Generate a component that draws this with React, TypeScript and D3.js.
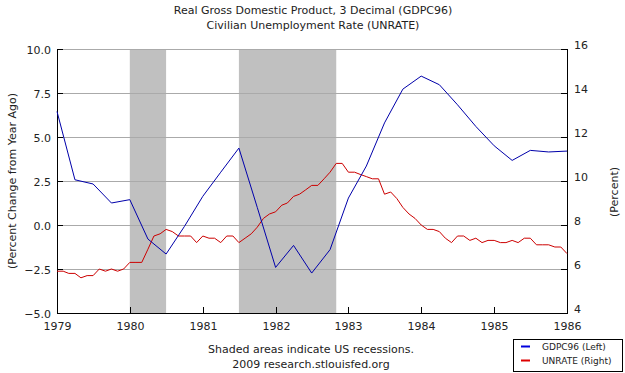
import * as d3 from "d3";
import { useEffect, useRef } from "react";

// GDPC96, percent change from year ago, quarterly from 1979 Q1
const gdpValues = [
  6.45, 2.57, 2.33, 1.25, 1.44, -0.8, -1.65, -0.08, 1.63, 3.0, 4.37, 1.0,
  -2.41, -1.16, -2.73, -1.4, 1.53, 3.35, 5.8, 7.72, 8.46, 7.97, 6.83, 5.6,
  4.5, 3.67, 4.24, 4.15, 4.2,
];

// UNRATE, monthly from Jan 1979
const unrateValues = [
  5.9, 5.9, 5.8, 5.8, 5.6, 5.7, 5.7, 6.0, 5.9, 6.0, 5.9, 6.0,
  6.3, 6.3, 6.3, 6.9, 7.5, 7.6, 7.8, 7.7, 7.5, 7.5, 7.5, 7.2,
  7.5, 7.4, 7.4, 7.2, 7.5, 7.5, 7.2, 7.4, 7.6, 7.9, 8.3, 8.5,
  8.6, 8.9, 9.0, 9.3, 9.4, 9.6, 9.8, 9.8, 10.1, 10.4, 10.8, 10.8,
  10.4, 10.4, 10.3, 10.2, 10.1, 10.1, 9.4, 9.5, 9.2, 8.8, 8.5, 8.3,
  8.0, 7.8, 7.8, 7.7, 7.4, 7.2, 7.5, 7.5, 7.3, 7.4, 7.2, 7.3,
  7.3, 7.2, 7.2, 7.3, 7.2, 7.4, 7.4, 7.1, 7.1, 7.1, 7.0, 7.0,
  6.7,
];

const recessions = [
  ["1980-01-01", "1980-07-01"],
  ["1981-07-01", "1982-11-01"],
];

const yearTicks = [1979, 1980, 1981, 1982, 1983, 1984, 1985, 1986];
const leftTicks = [-5, -2.5, 0, 2.5, 5, 7.5, 10];
const rightTicks = [4, 6, 8, 10, 12, 14, 16];

const titleLines = [
  "Real Gross Domestic Product, 3 Decimal (GDPC96)",
  "Civilian Unemployment Rate (UNRATE)",
];

const App = () => {
  const ref = useRef<SVGSVGElement>(null);

  useEffect(() => {
    document.body.style.margin = "0";
    const svg = d3.select(ref.current);
    svg.selectAll("*").remove();

    const margin = { top: 49, left: 57 };
    const width = 510, height = 264;
    const font = "DejaVu Sans, Verdana, sans-serif";

    const gdp = gdpValues.map((v, i) => ({ date: new Date(1979, i * 3, 1), value: v }));
    const unrate = unrateValues.map((v, i) => ({ date: new Date(1979, i, 1), value: v }));

    const x = d3.scaleTime()
      .domain([new Date(1979, 0, 1), new Date(1986, 0, 1)])
      .range([0, width]);
    const yL = d3.scaleLinear().domain([-5, 10]).range([height, 0]);
    const yR = d3.scaleLinear().domain([4, 16]).range([height, 0]);

    svg.append("rect").attr("width", 625).attr("height", 373).attr("fill", "#fff");

    // titles
    svg.selectAll(".title")
      .data(titleLines)
      .enter()
      .append("text")
      .attr("x", 313)
      .attr("y", (d, i) => 14 + i * 15)
      .attr("text-anchor", "middle")
      .attr("font-family", font)
      .attr("font-size", 11)
      .attr("fill", "#222")
      .text((d) => d);

    const g = svg.append("g").attr("transform", `translate(${margin.left},${margin.top})`);

    // recession shading
    g.selectAll(".rec")
      .data(recessions)
      .enter()
      .append("rect")
      .attr("x", (d) => x(new Date(d[0])))
      .attr("width", (d) => x(new Date(d[1])) - x(new Date(d[0])))
      .attr("y", 0)
      .attr("height", height)
      .attr("fill", "#c0c0c0");

    // gridlines
    g.selectAll(".grid")
      .data(leftTicks.filter((t) => t > -5))
      .enter()
      .append("line")
      .attr("x1", 0)
      .attr("x2", width)
      .attr("y1", (d) => Math.round(yL(d)) + 0.5)
      .attr("y2", (d) => Math.round(yL(d)) + 0.5)
      .attr("stroke", "#aaa");

    // axes
    const axisColor = "#000";
    g.append("line").attr("x1", 0.5).attr("x2", 0.5).attr("y1", 0).attr("y2", height + 0.5).attr("stroke", axisColor);
    g.append("line").attr("x1", width + 0.5).attr("x2", width + 0.5).attr("y1", 0).attr("y2", height + 0.5).attr("stroke", axisColor);
    g.append("line").attr("x1", 0).attr("x2", width + 1).attr("y1", height + 0.5).attr("y2", height + 0.5).attr("stroke", axisColor);

    // left ticks + labels
    leftTicks.forEach((t) => {
      const yy = Math.round(yL(t)) + 0.5;
      g.append("line").attr("x1", 0).attr("x2", 6).attr("y1", yy).attr("y2", yy).attr("stroke", axisColor);
      g.append("text")
        .attr("x", -6)
        .attr("y", yy + 4)
        .attr("text-anchor", "end")
        .attr("font-family", font)
        .attr("font-size", 11)
        .attr("fill", "#222")
        .text(d3.format(".1f")(t));
    });

    // right ticks + labels
    rightTicks.forEach((t) => {
      const yy = Math.round(yR(t)) + 0.5;
      g.append("line").attr("x1", width - 6).attr("x2", width).attr("y1", yy).attr("y2", yy).attr("stroke", axisColor);
      g.append("text")
        .attr("x", width + 7)
        .attr("y", yy - 1)
        .attr("font-family", font)
        .attr("font-size", 11)
        .attr("fill", "#222")
        .text(t);
    });

    // bottom ticks + labels
    yearTicks.forEach((yr) => {
      const xx = Math.round(x(new Date(yr, 0, 1))) + 0.5;
      g.append("line").attr("x1", xx).attr("x2", xx).attr("y1", height).attr("y2", height - 6).attr("stroke", axisColor);
      g.append("text")
        .attr("x", xx)
        .attr("y", height + 17)
        .attr("text-anchor", "middle")
        .attr("font-family", font)
        .attr("font-size", 11)
        .attr("fill", "#222")
        .text(yr);
    });

    // lines
    const gdpLine = d3.line<{ date: Date; value: number }>()
      .x((d) => x(d.date))
      .y((d) => yL(d.value));
    const unLine = d3.line<{ date: Date; value: number }>()
      .x((d) => x(d.date))
      .y((d) => yR(d.value));

    g.append("path")
      .datum(unrate)
      .attr("fill", "none")
      .attr("stroke", "#cc0000")
      .attr("stroke-width", 1)
      .attr("d", unLine);
    g.append("path")
      .datum(gdp)
      .attr("fill", "none")
      .attr("stroke", "#0000aa")
      .attr("stroke-width", 1)
      .attr("d", gdpLine);

    // axis titles
    svg.append("text")
      .attr("transform", `translate(16,${margin.top + height / 2}) rotate(-90)`)
      .attr("text-anchor", "middle")
      .attr("font-family", font)
      .attr("font-size", 11)
      .attr("fill", "#222")
      .text("(Percent Change from Year Ago)");
    svg.append("text")
      .attr("transform", `translate(618,192) rotate(-90)`)
      .attr("text-anchor", "middle")
      .attr("font-family", font)
      .attr("font-size", 11)
      .attr("fill", "#222")
      .text("(Percent)");

    // footer
    ["Shaded areas indicate US recessions.", "2009 research.stlouisfed.org"].forEach((s, i) => {
      svg.append("text")
        .attr("x", 311)
        .attr("y", 353 + i * 15)
        .attr("text-anchor", "middle")
        .attr("font-family", font)
        .attr("font-size", 11)
        .attr("fill", "#222")
        .text(s);
    });

    // legend
    const lg = svg.append("g").attr("transform", "translate(513,339)");
    lg.append("rect").attr("x", 0.5).attr("y", 0.5).attr("width", 109).attr("height", 32)
      .attr("fill", "#fff").attr("stroke", "#000");
    [["GDPC96 (Left)", "#0000dd"], ["UNRATE (Right)", "#dd0000"]].forEach(([label, c], i) => {
      lg.append("line").attr("x1", 8).attr("x2", 17).attr("y1", 7.5 + i * 14).attr("y2", 7.5 + i * 14)
        .attr("stroke", c).attr("stroke-width", 2);
      lg.append("text")
        .attr("x", 29)
        .attr("y", 11 + i * 14)
        .attr("font-family", font)
        .attr("font-size", 9)
        .attr("fill", "#222")
        .text(label);
    });
  }, []);

  return <svg ref={ref} width={625} height={373} style={{ display: "block" }} />;
};

export default App;
